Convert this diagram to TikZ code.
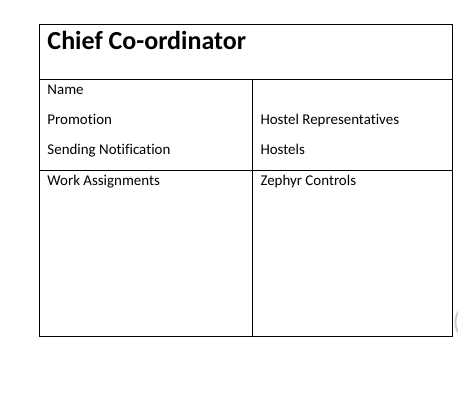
\documentclass[tikz,border=0pt]{standalone}
\usepackage{fontspec}
\setmainfont[Ligatures=NoCommon]{Carlito}
\tikzset{cell/.style={anchor=base west, inner sep=0pt, font=\fontsize{11.2}{13}\selectfont}}
\tikzset{head/.style={anchor=base west, inner sep=0pt, font=\fontsize{19.5}{23}\selectfont\bfseries}}
\begin{document}
\begin{tikzpicture}[x=0.75pt, y=-0.75pt, line width=0.75pt]
            \useasboundingbox (0, 0) rectangle (458, 400);
            \draw (39, 24) rectangle (452, 336);
            \draw (39, 79) -- (452, 79);
            \draw (39, 170) -- (452, 170);
            \draw (252, 79) -- (252, 336);
            \node[head] (title) at (47, 49) {Chief Co-ordinator};
            \node[cell] (name) at (47, 94) {Name};
            \node[cell] (promo) at (47, 124) {Promotion};
            \node[cell] (notify) at (47, 154) {Sending Notification};
            \node[cell] (work) at (47, 185) {Work Assignments};
            \node[cell] (reps) at (260, 124) {Hostel Representatives};
            \node[cell] (hostels) at (260, 154) {Hostels};
            \node[cell] (zephyr) at (260, 185) {Zephyr Controls};
            \node[cell, gray!40, font=\fontsize{20}{24}\selectfont] (paren) at (452, 330) {(};
        \end{tikzpicture}
\end{document}
